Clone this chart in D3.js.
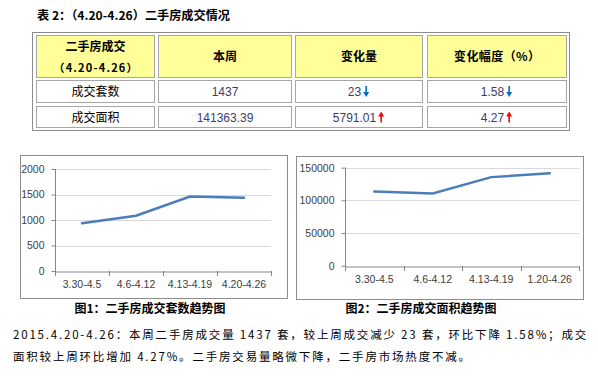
<!DOCTYPE html>
<html>
<head>
<meta charset="utf-8">
<script src="https://cdn.jsdelivr.net/npm/d3@7"></script>
<style>
  html, body { margin: 0; padding: 0; background: #fff; }
  svg { display: block; }
</style>
</head>
<body>
<div id="chart"></div>
<script>
// table data
const headers = ["二手房成交", "本周", "变化量", "变化幅度（%）"];
const headerSub = "（4.20-4.26）";
const rowLabels = ["成交套数", "成交面积"];
const thisWeek = ["1437", "141363.39"];
const change = ["23", "5791.01"];
const changePct = ["1.58", "4.27"];
const direction = ["down", "up"];

// trend charts
const weeks1 = ["3.30-4.5", "4.6-4.12", "4.13-4.19", "4.20-4.26"];
const units = [935, 1085, 1460, 1437];
const ticks1 = [0, 500, 1000, 1500, 2000];
const weeks2 = ["3.30-4.5", "4.6-4.12", "4.13-4.19", "1.20-4.26"];
const area = [113500, 110500, 135572, 141363];
const ticks2 = [0, 50000, 100000, 150000];

const title = "表 2：（4.20-4.26）二手房成交情况";
const caption1 = "图1：二手房成交套数趋势图";
const caption2 = "图2：二手房成交面积趋势图";
const para = [
  "2015.4.20-4.26：本周二手房成交量 1437 套，较上周成交减少 23 套，环比下降 1.58%；成交",
  "面积较上周环比增加 4.27%。二手房交易量略微下降，二手房市场热度不减。"
];

const W = 598, H = 391;
const cjk = "'Noto Sans CJK SC', 'Noto Sans', sans-serif";
const latin = "'Liberation Sans', Arial, sans-serif";

const svg = d3.select("#chart").append("svg")
  .attr("width", W).attr("height", H)
  .attr("viewBox", `0 0 ${W} ${H}`);

// title
svg.append("text")
  .attr("x", 37).attr("y", 20)
  .attr("textLength", 193).attr("lengthAdjust", "spacingAndGlyphs")
  .style("font-family", cjk).style("font-size", "12px").style("font-weight", "bold")
  .text(title);

// ---- table ----
const cols = [[36, 155], [158, 292], [295, 423], [427, 567]];
const rows = [[35, 78], [80, 103], [106, 128]];

svg.append("rect")
  .attr("x", 32.5).attr("y", 32.5).attr("width", 537).attr("height", 98)
  .attr("fill", "none").attr("stroke", "#8c8c8c");

rows.forEach((r, ri) => {
  cols.forEach((c, ci) => {
    svg.append("rect")
      .attr("x", c[0] + 0.5).attr("y", r[0] + 0.5)
      .attr("width", c[1] - c[0] - 1).attr("height", r[1] - r[0] - 1)
      .attr("fill", ri === 0 ? "#ffff99" : "#fff")
      .attr("stroke", "#a6a6a6");
  });
});

const cx = c => (c[0] + c[1]) / 2;
const cy = r => (r[0] + r[1]) / 2;

// header
headers.forEach((h, i) => {
  const t = svg.append("text")
    .attr("x", cx(cols[i]))
    .attr("text-anchor", "middle")
    .style("font-family", cjk).style("font-size", "12px").style("font-weight", "bold");
  if (i === 0) {
    t.attr("y", 51).text(h);
    svg.append("text")
      .attr("x", cx(cols[0]) - 42).attr("y", 72)
      .attr("textLength", 84).attr("lengthAdjust", "spacing")
      .style("font-family", cjk).style("font-size", "11px").style("font-weight", "bold")
      .text(headerSub);
  } else if (i === 3) {
    t.attr("y", cy(rows[0]) + 4).attr("text-anchor", "start")
      .attr("x", cx(cols[i]) - 43)
      .attr("textLength", 86).attr("lengthAdjust", "spacing")
      .text(h);
  } else {
    t.attr("y", cy(rows[0]) + 4).text(h);
  }
});

// body
function arrow(g, x, yc, dir) {
  const col = dir === "up" ? "#ff0000" : "#0070c0";
  const top = yc - 5.5, bot = yc + 5.5;
  const p = d3.path();
  if (dir === "up") {
    p.moveTo(x - 3, top + 5); p.lineTo(x, top); p.lineTo(x + 3, top + 5); p.closePath();
    g.append("path").attr("d", p.toString()).attr("fill", col);
    g.append("line").attr("x1", x).attr("x2", x).attr("y1", top + 4).attr("y2", bot)
      .attr("stroke", col).attr("stroke-width", 1.6);
  } else {
    p.moveTo(x - 3, bot - 5); p.lineTo(x, bot); p.lineTo(x + 3, bot - 5); p.closePath();
    g.append("path").attr("d", p.toString()).attr("fill", col);
    g.append("line").attr("x1", x).attr("x2", x).attr("y1", top).attr("y2", bot - 4)
      .attr("stroke", col).attr("stroke-width", 1.6);
  }
}

function valueWithArrow(c, r, val, dir) {
  const g = svg.append("g");
  const t = g.append("text")
    .attr("x", 0).attr("y", cy(r) + 4.5)
    .style("font-family", latin).style("font-size", "12px").style("fill", "#3b3b6e")
    .text(val);
  const w = t.node().getComputedTextLength();
  const total = w + 9;
  const x0 = cx(c) - total / 2;
  t.attr("x", x0);
  arrow(g, x0 + w + 5, cy(r), dir);
}

rowLabels.forEach((lab, i) => {
  const r = rows[i + 1];
  svg.append("text")
    .attr("x", cx(cols[0])).attr("y", cy(r) + 4.5)
    .attr("text-anchor", "middle")
    .style("font-family", cjk).style("font-size", "12px")
    .text(lab);
  svg.append("text")
    .attr("x", cx(cols[1])).attr("y", cy(r) + 4.5)
    .attr("text-anchor", "middle")
    .style("font-family", latin).style("font-size", "12px").style("fill", "#3b3b6e")
    .text(thisWeek[i]);
  valueWithArrow(cols[2], r, change[i], direction[i]);
  valueWithArrow(cols[3], r, changePct[i], direction[i]);
});

// ---- line charts ----
function lineChart(opt) {
  const g = svg.append("g");
  g.append("rect")
    .attr("x", opt.box[0] + 0.5).attr("y", opt.box[1] + 0.5)
    .attr("width", opt.box[2]).attr("height", opt.box[3])
    .attr("fill", "#fff").attr("stroke", "#8c8c8c");

  const x = d3.scaleBand().domain(opt.cats).range([opt.left, opt.right]);
  const y = d3.scaleLinear().domain([0, opt.max]).range([opt.bottom, opt.top]);

  // grid
  g.append("g")
    .selectAll("line").data(opt.ticks.filter(d => d > 0)).join("line")
    .attr("x1", opt.left).attr("x2", opt.right)
    .attr("y1", d => Math.round(y(d)) + 0.5).attr("y2", d => Math.round(y(d)) + 0.5)
    .attr("stroke", "#d9d9d9");

  // y axis
  const ya = g.append("g")
    .attr("transform", `translate(${opt.left + 0.5},0)`)
    .call(d3.axisLeft(y).tickValues(opt.ticks).tickSize(4).tickPadding(7).tickFormat(d3.format("d")));
  ya.selectAll(".domain").attr("stroke", "#868686").attr("d", `M0,${opt.top}V${opt.bottom}`);
  ya.selectAll(".tick line").attr("stroke", "#868686");
  ya.selectAll(".tick text")
    .style("font-family", latin).style("font-size", "10.5px").attr("fill", "#404040");

  // x axis
  const xa = g.append("g")
    .attr("transform", `translate(0,${Math.round(opt.bottom) + 0.5})`)
    .call(d3.axisBottom(x).tickSize(0).tickPadding(9));
  xa.select(".domain").attr("stroke", "#868686");
  xa.selectAll(".tick text")
    .style("font-family", latin).style("font-size", "10.5px").attr("fill", "#404040");
  // tick marks on band edges
  g.append("g")
    .selectAll("line").data(opt.cats.map(c => x(c)).concat([opt.right])).join("line")
    .attr("x1", d => Math.round(d) + 0.5).attr("x2", d => Math.round(d) + 0.5)
    .attr("y1", Math.round(opt.bottom)).attr("y2", Math.round(opt.bottom) + 5)
    .attr("stroke", "#868686");

  // line
  const line = d3.line()
    .x((d, i) => x(opt.cats[i]) + x.bandwidth() / 2)
    .y(d => y(d));
  g.append("path")
    .datum(opt.values)
    .attr("d", line)
    .attr("fill", "none")
    .attr("stroke", "#4a7ebb")
    .attr("stroke-width", 2.5)
    .attr("stroke-linecap", "round");

  svg.append("text")
    .attr("x", opt.capX).attr("y", 313)
    .attr("text-anchor", "middle")
    .style("font-family", cjk).style("font-size", "12px").style("font-weight", "bold")
    .text(opt.caption);
}

lineChart({
  box: [20, 155, 267, 143],
  left: 55, right: 271, top: 169, bottom: 271,
  cats: weeks1, values: units, ticks: ticks1, max: 2000,
  caption: caption1, capX: 150
});

lineChart({
  box: [296, 156, 287, 143],
  left: 345, right: 579, top: 167.7, bottom: 265.7,
  cats: weeks2, values: area, ticks: ticks2, max: 150000,
  caption: caption2, capX: 421
});

// ---- paragraph (justified first line, same spacing on the second) ----
const p1 = svg.append("text")
  .attr("x", 13).attr("y", 339)
  .style("font-family", cjk).style("font-size", "11.5px")
  .text(para[0]);
const natural = p1.node().getComputedTextLength();
const spacing = (575 - natural) / para[0].length;
p1.style("letter-spacing", spacing + "px");
svg.append("text")
  .attr("x", 13).attr("y", 361)
  .style("font-family", cjk).style("font-size", "11.5px")
  .style("letter-spacing", spacing + "px")
  .text(para[1]);
</script>
</body>
</html>
